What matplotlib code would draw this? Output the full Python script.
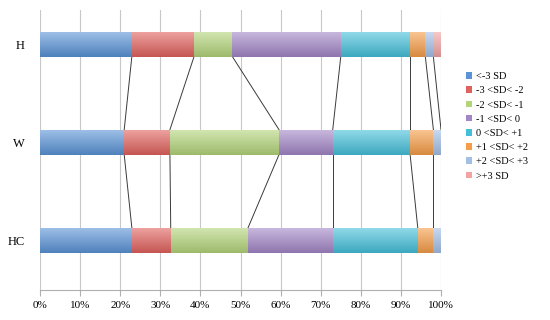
import numpy as np
import matplotlib
matplotlib.use("Agg")
import matplotlib.pyplot as plt
from matplotlib.colors import to_rgb

groups = ["HC", "W", "H"]  # bottom to top
labels = ["<-3 SD", "-3 <SD< -2", "-2 <SD< -1", "-1 <SD< 0",
          "0 <SD< +1", "+1 <SD< +2", "+2 <SD< +3", ">+3 SD"]
# percent share of each SD band per group (HC, W, H)
hc = [22.9, 9.7, 19.3, 21.1, 21.2, 3.9, 1.9, 0.0]
w = [21.0, 11.4, 27.2, 13.4, 19.3, 5.8, 1.9, 0.0]
h = [22.9, 15.5, 9.6, 27.0, 17.3, 3.8, 2.0, 1.9]
values = np.array([hc, w, h])
colors = ["#5a93d6", "#e0625e", "#b3d47a", "#a286c6",
          "#45bfd9", "#f59d48", "#a3bfe6", "#f2a3a3"]

plt.rcParams["font.family"] = ["Liberation Serif", "DejaVu Serif"]

fig = plt.figure(figsize=(5.5, 3.2), dpi=100)
ax = fig.add_axes([40 / 550, 30 / 320, 401 / 550, 280 / 320])

bar_h = 0.255
ypos = np.arange(len(groups))
left = np.zeros(len(groups))


def shade(c):
    # vertical gradient: lighter on top, darker at the bottom
    r, g, b = to_rgb(c)
    top = np.array([r, g, b]) * 0.6 + 0.4
    bot = np.array([r, g, b]) * 0.88
    t = np.linspace(0, 1, 32)[:, None]
    grad = top * (1 - t) + bot * t
    return grad[:, None, :]


for i, (lab, col) in enumerate(zip(labels, colors)):
    bars = ax.barh(ypos, values[:, i], left=left, height=bar_h,
                   color=col, label=lab, edgecolor="none", zorder=2)
    for b in bars:
        if b.get_width() <= 0:
            continue
        x0, y0 = b.get_x(), b.get_y()
        im = ax.imshow(shade(col), extent=[x0, x0 + b.get_width(), y0, y0 + bar_h],
                       origin="upper", aspect="auto", zorder=3,
                       interpolation="bilinear")
        im.set_clip_path(b)
    left = left + values[:, i]

# series lines between neighbouring bars
cum = np.cumsum(values, axis=1)
for k in range(len(groups) - 1):
    for j in range(len(labels)):
        ax.plot([cum[k, j], cum[k + 1, j]],
                [ypos[k] + bar_h / 2, ypos[k + 1] - bar_h / 2],
                color="#3a3a3a", lw=0.7, zorder=1)

ax.set_xlim(0, 100)
ax.set_ylim(-0.51, 2.35)
ax.set_xticks(np.arange(0, 101, 10))
ax.set_xticklabels([f"{v}%" for v in range(0, 101, 10)], fontsize=8)
ax.set_yticks(ypos)
ax.set_yticklabels(groups, fontsize=9)
ax.xaxis.grid(True, color="#c8c8c8", lw=0.8, zorder=0)
ax.set_axisbelow(True)
for s in ["top", "right", "left"]:
    ax.spines[s].set_visible(False)
ax.spines["bottom"].set_color("#b0b0b0")
ax.tick_params(axis="x", length=4, color="#b0b0b0", pad=4)
ax.tick_params(axis="y", length=0, pad=11)

handles, labs = ax.get_legend_handles_labels()
fig.legend(handles, labs, loc="upper left", bbox_to_anchor=(462 / 550, 1 - 68 / 320),
           frameon=False, fontsize=7.5, handlelength=0.6, handleheight=0.6,
           handletextpad=0.3, labelspacing=0.5, borderaxespad=0)

fig.savefig("out.png", dpi=100)
